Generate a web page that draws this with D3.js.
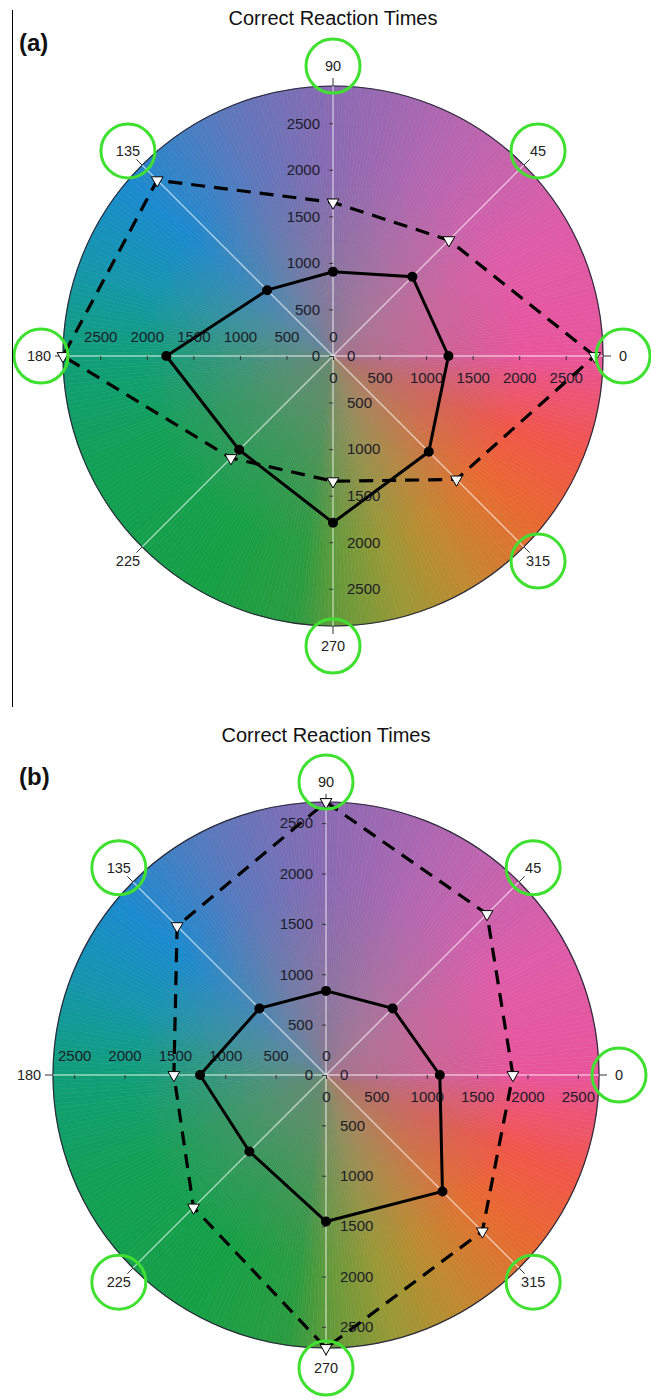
<!DOCTYPE html>
<html>
<head>
<meta charset="utf-8">
<script src="https://cdn.jsdelivr.net/npm/d3@7"></script>
<style>
  body { margin: 0; background: #fff; }
  svg { display: block; font-family: "Liberation Sans", Arial, sans-serif; }
</style>
</head>
<body>
<svg id="chart" width="651" height="1399"></svg>
<script>
// polar directions (degrees, counter-clockwise from the right)
const angles = [0, 45, 90, 135, 180, 225, 270, 315];
const angleLabels = ["0", "45", "90", "135", "180", "225", "270", "315"];
const radialTicks = [0, 500, 1000, 1500, 2000, 2500];

// panel (a)
const solidA = [1240, 1205, 905, 1000, 1790, 1425, 1790, 1455];
const dashedA = [2810, 1760, 1650, 2670, 2900, 1550, 1345, 1875];
const circledA = ["0", "45", "90", "135", "180", "270", "315"];

// panel (b)
const solidB = [1130, 935, 835, 935, 1250, 1075, 1455, 1635];
const dashedB = [1855, 2260, 2710, 2090, 1510, 1860, 2710, 2195];
const circledB = ["0", "45", "90", "135", "225", "270", "315"];

// hue wheel behind the plot
const wheelAngles = [0, 30, 60, 90, 115, 140, 160, 180, 205, 240, 262, 272, 285, 300, 320, 338, 352, 360];
const wheelColors = ["#e8559c", "#de5ca8", "#b866b0", "#8a6ab2", "#5c78bc", "#1a8ace", "#1596ac", "#109e78",
                     "#12a055", "#15a045", "#2a9c40", "#6a9a3a", "#9a9836", "#c08a30", "#e86a30", "#f05648", "#ec5478", "#e8559c"];

const svg = d3.select("#chart");
const defs = svg.append("defs");

const fade = defs.append("radialGradient").attr("id", "fade");
fade.append("stop").attr("offset", "0%").attr("stop-color", "#8a8284").attr("stop-opacity", 0.75);
fade.append("stop").attr("offset", "35%").attr("stop-color", "#8a8284").attr("stop-opacity", 0.35);
fade.append("stop").attr("offset", "70%").attr("stop-color", "#8a8284").attr("stop-opacity", 0);

const wheelColor = d3.scaleLinear().domain(wheelAngles).range(wheelColors).interpolate(d3.interpolateRgb);

function panel(cfg) {
  const g = svg.append("g").attr("transform", `translate(${cfg.cx},${cfg.cy})`);
  const R = cfg.R;
  const r = d3.scaleLinear().domain([0, cfg.max]).range([0, R]);
  const rad = a => a * Math.PI / 180;
  const pt = (a, v) => [r(v) * Math.cos(rad(a)), -r(v) * Math.sin(rad(a))];

  // colour wheel built from thin wedges
  const steps = d3.range(0, 360, 1);
  const arc = d3.arc().innerRadius(0).outerRadius(R);
  g.append("g").selectAll("path").data(steps).join("path")
    .attr("d", d => arc({ startAngle: rad(90 - d - 1), endAngle: rad(90 - d) }))
    .attr("fill", d => wheelColor(d + 0.5))
    .attr("stroke", d => wheelColor(d + 0.5))
    .attr("stroke-width", 0.6);
  g.append("circle").attr("r", R).attr("fill", "url(#fade)");
  g.append("circle").attr("r", R).attr("fill", "none").attr("stroke", "#2a2a3a").attr("stroke-width", 1.2);

  // spokes
  g.append("g").selectAll("line").data(angles).join("line")
    .attr("x1", 0).attr("y1", 0)
    .attr("x2", a => R * Math.cos(rad(a))).attr("y2", a => -R * Math.sin(rad(a)))
    .attr("stroke", "rgba(255,255,255,0.6)").attr("stroke-width", 1.4);
  g.append("g").selectAll("line").data(angles).join("line")
    .attr("x1", a => R * Math.cos(rad(a))).attr("y1", a => -R * Math.sin(rad(a)))
    .attr("x2", a => (R + 8) * Math.cos(rad(a))).attr("y2", a => -(R + 8) * Math.sin(rad(a)))
    .attr("stroke", "#333").attr("stroke-width", 1);

  // radial axes
  const right = d3.scaleLinear().domain([0, cfg.max]).range([0, R]);
  const left = d3.scaleLinear().domain([0, cfg.max]).range([0, -R]);
  const style = sel => {
    sel.select(".domain").remove();
    sel.selectAll(".tick line").attr("stroke", "#333");
    sel.selectAll(".tick text").attr("fill", "#1c1c28").attr("font-size", 15);
  };
  g.append("g").call(d3.axisBottom(right).tickValues(radialTicks).tickSize(4).tickFormat(d3.format("d")))
    .call(style).call(s => s.selectAll(".tick text").attr("y", 16));
  g.append("g").call(d3.axisBottom(left).tickValues(radialTicks).tickSize(4).tickFormat(d3.format("d")))
    .call(style).call(s => s.selectAll(".tick text").attr("y", -14).attr("dy", 0));
  g.append("g").call(d3.axisLeft(left).tickValues(radialTicks).tickSize(4).tickFormat(d3.format("d")))
    .call(style).call(s => s.selectAll(".tick text").attr("x", -13));
  g.append("g").call(d3.axisLeft(right).tickValues(radialTicks).tickSize(4).tickFormat(d3.format("d")))
    .call(style).call(s => s.selectAll(".tick text").attr("x", 14).attr("text-anchor", "start"));

  // series
  const line = d3.line().curve(d3.curveLinearClosed);
  const dashedPts = angles.map((a, i) => pt(a, cfg.dashed[i]));
  const solidPts = angles.map((a, i) => pt(a, cfg.solid[i]));
  g.append("path").attr("d", line(dashedPts)).attr("fill", "none")
    .attr("stroke", "#000").attr("stroke-width", 3.2).attr("stroke-dasharray", "14 9");
  g.append("path").attr("d", line(solidPts)).attr("fill", "none")
    .attr("stroke", "#000").attr("stroke-width", 3);
  g.append("g").selectAll("circle").data(solidPts).join("circle")
    .attr("cx", d => d[0]).attr("cy", d => d[1]).attr("r", 5).attr("fill", "#000");
  const tri = d3.symbol().type(d3.symbolTriangle).size(60);
  g.append("g").selectAll("path").data(dashedPts).join("path")
    .attr("d", tri).attr("transform", d => `translate(${d[0]},${d[1]}) rotate(180)`)
    .attr("fill", "#fff").attr("stroke", "#000").attr("stroke-width", 1);

  // angle labels with green rings
  const lab = a => [(R + 20) * Math.cos(rad(a)), -(R + 20) * Math.sin(rad(a))];
  g.append("g").selectAll("text").data(angles).join("text")
    .attr("x", a => lab(a)[0] + (a === 180 ? -4 : 0))
    .attr("y", a => lab(a)[1])
    .attr("dy", "0.35em").attr("text-anchor", "middle")
    .attr("font-size", 14.5).attr("fill", "#222")
    .text((a, i) => angleLabels[i]);
  g.append("g").selectAll("circle").data(angles.filter((a, i) => cfg.circled.includes(angleLabels[i]))).join("circle")
    .attr("cx", a => lab(a)[0] + (a === 180 ? -2 : 0)).attr("cy", a => lab(a)[1])
    .attr("r", 27).attr("fill", "none").attr("stroke", "#3fe030").attr("stroke-width", 3);

  // title and panel letter
  svg.append("text").attr("x", cfg.cx).attr("y", cfg.titleY).attr("text-anchor", "middle")
    .attr("font-size", 20).attr("fill", "#111").text("Correct Reaction Times");
  svg.append("text").attr("x", 19).attr("y", cfg.letterY).attr("font-size", 24).attr("font-weight", "bold")
    .attr("fill", "#111").text(cfg.letter);
}

panel({ cx: 333, cy: 356, R: 270, max: 2900, solid: solidA, dashed: dashedA, circled: circledA,
        titleY: 25, letterY: 51, letter: "(a)" });
panel({ cx: 326, cy: 1075, R: 273, max: 2710, solid: solidB, dashed: dashedB, circled: circledB,
        titleY: 742, letterY: 785, letter: "(b)" });

// thin rule on the left of panel (a)
svg.append("line").attr("x1", 12.5).attr("x2", 12.5).attr("y1", 10).attr("y2", 707)
  .attr("stroke", "#000").attr("stroke-width", 1);
</script>
</body>
</html>
